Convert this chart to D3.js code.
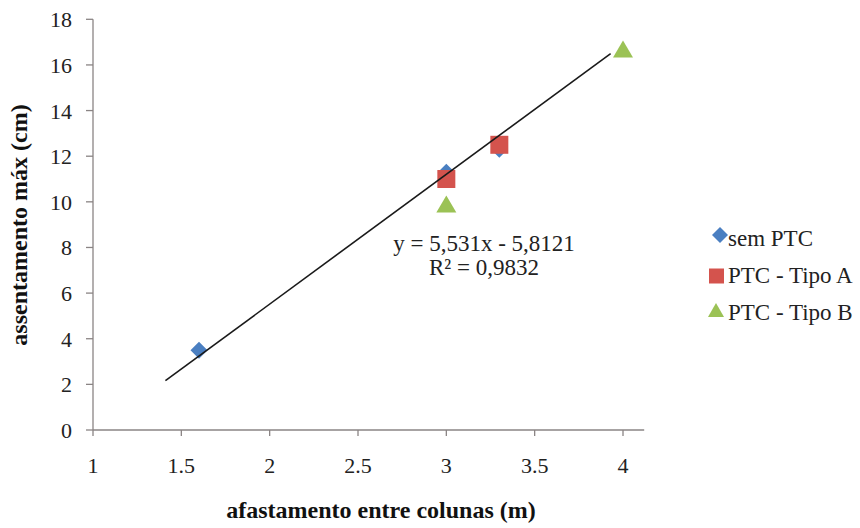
<!DOCTYPE html>
<html>
<head>
<meta charset="utf-8">
<script src="https://cdn.jsdelivr.net/npm/d3@7/dist/d3.min.js"></script>
</head>
<body style="margin:0">
<svg id="chart" width="860" height="528" style="display:block"></svg>
<script>
// ---- data ----
const seriesNames = ["sem PTC", "PTC - Tipo A", "PTC - Tipo B"];
const semPTC_x = [1.6, 3.0, 3.3];
const semPTC_y = [3.5, 11.3, 12.3];
const tipoA_x = [3.0, 3.3];
const tipoA_y = [11.0, 12.5];
const tipoB_x = [3.0, 4.0];
const tipoB_y = [9.9, 16.7];
const trendX = [1.41, 3.93];
const trendY = [2.16, 16.5];
const xTicks = [1, 1.5, 2, 2.5, 3, 3.5, 4];
const yTicks = [0, 2, 4, 6, 8, 10, 12, 14, 16, 18];
const equationLines = ["y = 5,531x - 5,8121", "R² = 0,9832"];
const xTitle = "afastamento entre colunas (m)";
const yTitle = "assentamento máx (cm)";

// ---- layout ----
const FONT = "'Liberation Serif'";
const svg = d3.select("#chart");
const x = d3.scaleLinear().domain([1, 4]).range([93, 623]);
const y = d3.scaleLinear().domain([0, 18]).range([430, 19.3]);
const xEnd = 4.12;
const axisColor = "#8a8484";
const colors = ["#4a7fc1", "#d4534d", "#9bc255"];

function txt(sel) { return sel.attr("font-family", "Liberation Serif").style("font-family", FONT, "important"); }

// axes
const gx = svg.append("g");
gx.append("line").attr("x1", x(1)).attr("x2", x(xEnd)).attr("y1", y(0)).attr("y2", y(0))
  .attr("stroke", axisColor).attr("stroke-width", 1.3);
gx.selectAll(".xt").data(xTicks).enter().append("line")
  .attr("x1", d => x(d)).attr("x2", d => x(d)).attr("y1", y(0)).attr("y2", y(0) + 6)
  .attr("stroke", axisColor).attr("stroke-width", 1.3);
txt(gx.selectAll(".xl").data(xTicks).enter().append("text"))
  .attr("x", d => x(d)).attr("y", y(0) + 43)
  .attr("text-anchor", "middle").attr("font-size", 22).attr("fill", "#222")
  .text(d => d);

const gy = svg.append("g");
gy.append("line").attr("x1", x(1)).attr("x2", x(1)).attr("y1", y(18)).attr("y2", y(0))
  .attr("stroke", axisColor).attr("stroke-width", 1.3);
gy.selectAll(".yt").data(yTicks).enter().append("line")
  .attr("x1", x(1) - 7).attr("x2", x(1)).attr("y1", d => y(d)).attr("y2", d => y(d))
  .attr("stroke", axisColor).attr("stroke-width", 1.3);
txt(gy.selectAll(".yl").data(yTicks).enter().append("text"))
  .attr("x", x(1) - 21).attr("y", d => y(d) + 8)
  .attr("text-anchor", "end").attr("font-size", 22).attr("fill", "#222")
  .text(d => d);

// titles
txt(svg.append("text")).attr("x", 381).attr("y", 518).attr("text-anchor", "middle")
  .attr("font-size", 24).attr("font-weight", "bold").attr("fill", "#111").text(xTitle);
txt(svg.append("text")).attr("transform", "translate(27,225) rotate(-90)").attr("text-anchor", "middle")
  .attr("font-size", 24).attr("font-weight", "bold").attr("fill", "#111").text(yTitle);

// marker shapes
function diamond(cx, cy, r) { return `M${cx},${cy - r}L${cx + r},${cy}L${cx},${cy + r}L${cx - r},${cy}Z`; }
function square(cx, cy, h) { return `M${cx - h},${cy - h}h${2 * h}v${2 * h}h${-2 * h}Z`; }
function triangle(cx, cy, w, h) { return `M${cx},${cy - h / 2}L${cx + w / 2},${cy + h / 2}L${cx - w / 2},${cy + h / 2}Z`; }

const gm = svg.append("g");
gm.selectAll(".d").data(d3.zip(semPTC_x, semPTC_y)).enter().append("path")
  .attr("d", d => diamond(x(d[0]), y(d[1]), 8.5)).attr("fill", colors[0]);
gm.selectAll(".s").data(d3.zip(tipoA_x, tipoA_y)).enter().append("path")
  .attr("d", d => square(x(d[0]), y(d[1]), 9)).attr("fill", colors[1]);
gm.selectAll(".t").data(d3.zip(tipoB_x, tipoB_y)).enter().append("path")
  .attr("d", d => triangle(x(d[0]), y(d[1]), 20, 17)).attr("fill", colors[2]);

// trend line
svg.append("line")
  .attr("x1", x(trendX[0])).attr("y1", y(trendY[0]))
  .attr("x2", x(trendX[1])).attr("y2", y(trendY[1]))
  .attr("stroke", "#1a1a1a").attr("stroke-width", 1.6);

// equation
txt(svg.selectAll(".eq").data(equationLines).enter().append("text"))
  .attr("x", 484).attr("y", (d, i) => 251 + i * 24)
  .attr("text-anchor", "middle").attr("font-size", 23).attr("fill", "#222")
  .text(d => d);

// legend
const lg = svg.append("g");
const legY = [238, 275, 312];
lg.append("path").attr("d", diamond(720, legY[0] - 3, 8)).attr("fill", colors[0]);
lg.append("path").attr("d", square(716.5, legY[1] + 1, 7.5)).attr("fill", colors[1]);
lg.append("path").attr("d", triangle(716, legY[2] - 2, 16, 14)).attr("fill", colors[2]);
txt(lg.selectAll(".lt").data(seriesNames).enter().append("text"))
  .attr("x", 728).attr("y", (d, i) => legY[i] + 8)
  .attr("font-size", 23).attr("fill", "#222").text(d => d);
</script>
</body>
</html>
